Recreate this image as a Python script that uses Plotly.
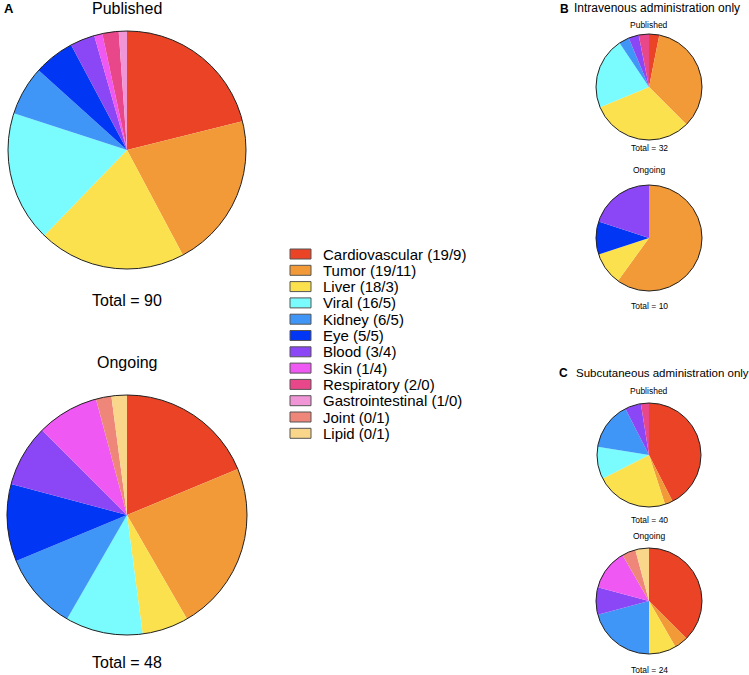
import plotly.graph_objects as go

# ===============================
# Data
# ===============================

categories = ["Cardiovascular", "Tumor", "Liver", "Viral", "Kidney", "Eye",
              "Blood", "Skin", "Respiratory", "Gastrointestinal", "Joint", "Lipid"]
published = [19, 19, 18, 16, 6, 5, 3, 1, 2, 1, 0, 0]
ongoing = [9, 11, 3, 5, 5, 5, 4, 4, 0, 0, 1, 1]

iv_published = [1, 11, 10, 7, 1, 0, 1, 0, 1, 0, 0, 0]
iv_ongoing = [0, 6, 1, 0, 0, 1, 2, 0, 0, 0, 0, 0]
sc_published = [17, 1, 9, 4, 6, 0, 2, 0, 1, 0, 0, 0]
sc_ongoing = [9, 1, 2, 0, 5, 0, 2, 3, 0, 0, 1, 1]

colors = ["#EA4326", "#F29A38", "#FCE14E", "#7AFBFD", "#4096F7", "#0236F5",
          "#8B47F6", "#EF58F3", "#E8478A", "#F096D6", "#EE8679", "#FAD68A"]

labels = [f"{c} ({p}/{o})" for c, p, o in zip(categories, published, ongoing)]

W, H = 749, 675
FONT = "Liberation Sans, Arial, sans-serif"


def px_dom(cx, cy, r):
    return dict(x=[(cx - r) / W, (cx + r) / W], y=[1 - (cy + r) / H, 1 - (cy - r) / H])


# (values, center x, center y, radius) in pixels
pies = [
    (published, 127, 150, 119),
    (ongoing, 127, 515, 120),
    (iv_published, 649, 87, 53),
    (iv_ongoing, 649, 238, 53),
    (sc_published, 649, 455, 52),
    (sc_ongoing, 649, 601, 53),
]

fig = go.Figure()
shapes = []
for vals, cx, cy, r in pies:
    fig.add_trace(go.Pie(
        labels=labels, values=vals,
        marker=dict(colors=colors, line=dict(width=0)),
        sort=False, direction="clockwise", rotation=0,
        textinfo="none", hoverinfo="label+value", showlegend=False,
        domain=px_dom(cx, cy, r),
    ))
    # thin outline round the pie only
    shapes.append(dict(type="circle", xref="paper", yref="paper",
                       x0=(cx - r) / W, x1=(cx + r) / W,
                       y0=1 - (cy + r) / H, y1=1 - (cy - r) / H,
                       line=dict(color="#222222", width=1)))


def txt(x, y, s, size, bold=False, xanchor="center"):
    return dict(x=x / W, y=1 - y / H, xref="paper", yref="paper",
                text=f"<b>{s}</b>" if bold else s,
                showarrow=False, xanchor=xanchor, yanchor="middle",
                font=dict(size=size, color="black", family=FONT))


annotations = [
    txt(2, 9, "A", 13, bold=True, xanchor="left"),
    txt(127, 8, "Published", 16),
    txt(127, 300, "Total = 90", 16),
    txt(127, 362, "Ongoing", 16),
    txt(127, 662, "Total = 48", 16),
    txt(558, 9, "B", 12, bold=True, xanchor="left"),
    txt(657, 8, "Intravenous administration only", 12),
    txt(649, 25, "Published", 8.5),
    txt(649, 148, "Total = 32", 8.5),
    txt(649, 170, "Ongoing", 8.5),
    txt(649, 306, "Total = 10", 8.5),
    txt(557, 373, "C", 12, bold=True, xanchor="left"),
    txt(662, 373, "Subcutaneous administration only", 11.5),
    txt(649, 391, "Published", 8.5),
    txt(649, 520, "Total = 40", 8.5),
    txt(649, 536, "Ongoing", 8.5),
    txt(649, 670, "Total = 24", 8.5),
]

# legend drawn by hand: swatch + label per category
for i, (lab, col) in enumerate(zip(labels, colors)):
    y = 254 + i * 16.3
    shapes.append(dict(type="rect", xref="paper", yref="paper",
                       x0=290 / W, x1=311 / W, y0=1 - (y + 5) / H, y1=1 - (y - 5) / H,
                       fillcolor=col, line=dict(color="#555555", width=1)))
    annotations.append(txt(321, y, lab, 15, xanchor="left"))

fig.update_layout(
    width=W, height=H,
    margin=dict(l=0, r=0, t=0, b=0),
    paper_bgcolor="white",
    font=dict(family=FONT, color="black"),
    shapes=shapes,
    annotations=annotations,
)

fig.write_html("out.html", config={"displayModeBar": False},
               post_script="document.body.style.margin='0';")
